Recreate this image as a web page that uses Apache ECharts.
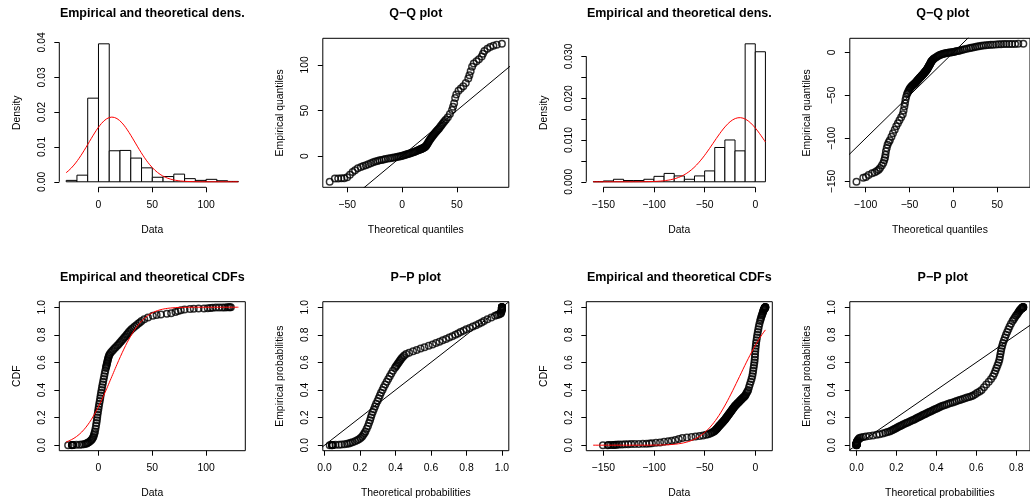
<!DOCTYPE html>
<html>
<head>
<meta charset="utf-8">
<script src="https://cdn.jsdelivr.net/npm/echarts@6/dist/echarts.min.js"></script>
<style>
html, body { margin: 0; padding: 0; background: #fff; }
#chart { width: 1030px; height: 504px; }
</style>
</head>
<body>
<div id="chart"></div>
<script>
// ---- Sample 1: plotting probabilities and sample quantiles ----
const probs1 = [0.00013,0.0003,0.0005,0.0008,0.0012,0.0018,0.0026,0.0037,0.005,0.007,
  0.01,0.013,0.017,0.022,0.028,0.035,0.043,0.052,0.062,0.074,
  0.087,0.1,
  0.12,0.14,0.16,0.18,0.2,0.22,0.24,0.26,0.28,0.3,
  0.32,0.34,0.36,0.38,0.4,0.42,0.44,0.46,0.48,0.5,
  0.52,0.54,0.56,0.57,0.58,0.59,0.6,0.61,0.62,0.63,0.64,0.65,
  0.66,0.67,0.68,0.69,0.7,0.71,0.72,0.73,0.74,0.75,
  0.76,0.77,0.78,0.79,0.8,0.81,0.82,0.83,0.84,0.85,
  0.86,0.87,0.88,0.89,
  0.9,0.913,0.926,0.938,0.943,0.948,0.9525,0.957,0.965,0.972,
  0.978,0.983,0.987,0.9885,0.99,0.9915,0.993,0.995,0.9963,0.9974,
  0.9978,0.9982,0.9988,0.9992,0.9995,0.9997,0.99987];
const values1 = [-28.2,-24.7,-24.5,-24.4,-24.2,-23.3,-20.5,-17.5,-15.5,-13.5,
  -12,-10.9,-10.0,-9.0,-7.8,-6.8,-6.0,-5.3,-4.7,-4.2,
  -3.7,-3.3,
  -2.8,-2.3,-1.9,-1.5,-1.2,-0.9,-0.5,-0.1,0.3,0.7,
  1.2,1.6,2.0,2.4,2.9,3.3,3.8,4.3,4.8,5.3,
  5.8,6.3,6.9,7.2,7.5,7.8,8.1,8.4,8.7,9.0,9.4,9.8,
  10.4,11.3,12.5,13.6,14.8,16.0,17.3,18.5,19.6,20.7,
  21.8,22.9,24,25.1,26.2,27.2,28.2,29.4,30.6,32.1,
  33.6,35.2,36.8,38.4,
  40,42.5,46,50.5,54,58,63.5,67.5,71.5,74,
  76.5,80,85,88.5,93,98,101.5,104,106,109,
  112,115,117.5,119.5,121,122,123];

// ---- Sample 2 ----
const probs2 = [0.00013,0.0004,0.0006,0.0009,0.0015,0.0022,0.0029,0.0037,0.0044,0.0055,
  0.0066,0.0074,0.0081,0.0086,0.0091,0.01,0.011,0.0125,0.0142,0.017,
  0.02,0.024,0.028,0.033,0.0384,0.045,0.052,0.056,0.06,0.063,
  0.066,0.07,0.075,0.08,0.085,0.09,0.095,
  0.1,0.105,0.11,0.115,0.12,0.125,0.13,0.135,0.14,0.145,
  0.15,0.155,0.16,0.165,0.17,0.175,0.18,0.185,0.19,0.195,
  0.2,0.205,0.21,0.215,0.22,0.225,0.23,0.235,0.24,0.245,
  0.25,0.255,0.26,0.265,0.27,0.275,0.28,0.285,0.29,0.295,
  0.3,0.305,0.31,0.315,0.32,0.325,0.33,0.335,0.34,0.345,
  0.35,0.355,0.36,0.37,0.38,0.39,0.4,
  0.42,0.44,0.46,0.48,0.5,0.52,0.54,0.56,0.58,0.6,
  0.62,0.64,0.66,0.68,0.7,0.72,0.74,0.76,0.78,0.8,
  0.82,0.84,0.86,0.88,0.9,
  0.913,0.926,0.938,0.948,0.957,0.965,0.972,0.978,0.983,0.987,
  0.99,0.993,0.995,0.9963,0.9974,0.9982,0.9988,0.9992,0.9995,0.9997,0.99987];
const values2 = [-150.4,-145.7,-144.9,-142.6,-140.5,-139.3,-138,-136.5,-134.5,-131.5,
  -128.5,-125.5,-122.5,-119,-115,-111,-107.5,-104.5,-102,-98,
  -94,-90,-86,-82.5,-79,-75.5,-72,-67.5,-63,-59,
  -55,-51.5,-48.5,-46.5,-44.5,-43,-41.8,
  -40.7,-39.9,-39.1,-38.5,-37.9,-37.3,-36.7,-36.1,-35.5,-34.9,
  -34.3,-33.6,-33.0,-32.4,-31.8,-31.2,-30.6,-30.0,-29.5,-29.0,
  -28.5,-28.0,-27.5,-27.0,-26.5,-26.0,-25.5,-25.0,-24.5,-24.0,
  -23.5,-23.0,-22.5,-22.0,-21.5,-21.0,-20.5,-19.9,-19.3,-18.6,
  -18,-17.3,-16.6,-15.9,-15.3,-14.6,-14,-13.3,-12.6,-11.9,
  -11.2,-10.5,-9.9,-9.2,-8.5,-7.7,-7,
  -6.2,-5.4,-4.5,-3.7,-3.0,-2.5,-2.1,-1.7,-1.3,-0.9,
  -0.6,-0.4,-0.2,0,0.2,0.5,0.8,1.2,1.6,2.0,
  2.5,3.0,3.5,4.1,4.8,
  5.3,5.8,6.3,6.8,7.2,7.6,7.9,8.2,8.5,8.8,
  9.0,9.2,9.4,9.5,9.6,9.7,9.75,9.8,9.85,9.9,9.95];

// ---- Fitted normal parameters ----
const fitMean1 = 12.55, fitSd1 = 21.49;
const fitMean2 = -15.4, fitSd2 = 26.0;

// ---- Histogram breaks and densities ----
const breaks1 = [-30,-20,-10,0,10,20,30,40,50,60,70,80,90,100,110,120,130];
const density1 = [0.0004,0.0019,0.0240,0.0396,0.0089,0.0090,0.0068,0.0040,0.0013,0.0015,0.0022,0.0009,0.0004,0.0007,0.0003,0.0001];
const breaks2 = [-160,-150,-140,-130,-120,-110,-100,-90,-80,-70,-60,-50,-40,-30,-20,-10,0,10];
const density2 = [0.00003,0.0002,0.0006,0.0003,0.0003,0.0006,0.0013,0.0020,0.0014,0.0006,0.0014,0.0026,0.0082,0.0100,0.0074,0.0330,0.0311];

// ---- Tick positions ----
const ticksData1 = [0, 50, 100];
const ticksData2 = [-150, -100, -50, 0];
const ticksDens1 = [0, 0.01, 0.02, 0.03, 0.04];
const ticksDens2 = [0, 0.005, 0.01, 0.015, 0.02, 0.025, 0.03];
const labelsDens2 = [0, 0.01, 0.02, 0.03];
const ticksQx1 = [-50, 0, 50];
const ticksQy1 = [0, 50, 100];
const ticksQx2 = [-100, -50, 0, 50];
const ticksQy2 = [-150, -100, -50, 0];
const ticksProb = [0, 0.2, 0.4, 0.6, 0.8, 1];

// ---- Normal distribution helpers ----
function erfc(x) {
  const z = Math.abs(x), t = 1 / (1 + 0.5 * z);
  const r = t * Math.exp(-z * z - 1.26551223 + t * (1.00002368 + t * (0.37409196 + t * (0.09678418 +
    t * (-0.18628806 + t * (0.27886807 + t * (-1.13520398 + t * (1.48851587 + t * (-0.82215223 + t * 0.17087277)))))))));
  return x >= 0 ? r : 2 - r;
}
function pnorm(x, m, s) { return 0.5 * erfc(-((x - m) / s) / Math.SQRT2); }
function dnorm(x, m, s) { const z = (x - m) / s; return Math.exp(-0.5 * z * z) / (s * Math.sqrt(2 * Math.PI)); }
function qnormStd(p) {
  const a = [-3.969683028665376e+01, 2.209460984245205e+02, -2.759285104469687e+02, 1.383577518672690e+02, -3.066479806614716e+01, 2.506628277459239e+00];
  const b = [-5.447609879822406e+01, 1.615858368580409e+02, -1.556989798598866e+02, 6.680131188771972e+01, -1.328068155288572e+01];
  const c = [-7.784894002430293e-03, -3.223964580411365e-01, -2.400758277161838e+00, -2.549732539343734e+00, 4.374664141464968e+00, 2.938163982698783e+00];
  const d = [7.784695709041462e-03, 3.224671290700398e-01, 2.445134137142996e+00, 3.754408661907416e+00];
  const pl = 0.02425;
  let q, r;
  if (p < pl) {
    q = Math.sqrt(-2 * Math.log(p));
    return (((((c[0]*q+c[1])*q+c[2])*q+c[3])*q+c[4])*q+c[5]) / ((((d[0]*q+d[1])*q+d[2])*q+d[3])*q+1);
  } else if (p <= 1 - pl) {
    q = p - 0.5; r = q * q;
    return (((((a[0]*r+a[1])*r+a[2])*r+a[3])*r+a[4])*r+a[5])*q / (((((b[0]*r+b[1])*r+b[2])*r+b[3])*r+b[4])*r+1);
  } else {
    q = Math.sqrt(-2 * Math.log(1 - p));
    return -(((((c[0]*q+c[1])*q+c[2])*q+c[3])*q+c[4])*q+c[5]) / ((((d[0]*q+d[1])*q+d[2])*q+d[3])*q+1);
  }
}
function qnorm(p, m, s) { return m + s * qnormStd(p); }

// R-style axis extent: data range widened by 4% on each side
function widen(lo, hi) { const e = 0.04 * (hi - lo); return [lo - e, hi + e]; }
function extent(arr) { return [Math.min.apply(null, arr), Math.max.apply(null, arr)]; }

function fmt(dec) {
  return v => (v < -1e-12 ? '\u2212' : '') + Math.abs(v).toFixed(dec);
}

const FONT = "'Liberation Sans', Arial, Helvetica, sans-serif";
const titles = [], grids = [], xAxes = [], yAxes = [], series = [];

const COL0 = 59.3, COLW = 263.5, ROW0 = 38.3, ROWH = 263.4, PW = 186, PH = 149;

function makeAxis(dim, gi, range, ticks, labels, formatter, name) {
  return {
    gridIndex: gi, type: 'value', min: range[0], max: range[1],
    axisLine: { show: false, onZero: false },
    axisTick: { show: true, inside: false, length: 5, customValues: ticks, lineStyle: { color: '#000', width: 1 } },
    axisLabel: {
      show: true, customValues: labels, formatter: formatter,
      fontSize: 10.4, fontFamily: FONT, color: '#000', margin: 12.5,
      rotate: dim === 'y' ? 90 : 0, align: 'center', verticalAlign: dim === 'y' ? 'bottom' : 'top'
    },
    splitLine: { show: false },
    name: name, nameLocation: 'middle', nameGap: 37.5,
    nameTextStyle: { fontSize: 10.4, fontFamily: FONT, color: '#000' }
  };
}

function addPanel(gi, col, row, o) {
  const left = COL0 + COLW * col, top = ROW0 + ROWH * row;
  grids.push({ left: left, top: top, width: PW, height: PH, show: o.box, borderColor: '#000', borderWidth: 1, backgroundColor: 'transparent' });
  titles.push({ text: o.title, left: left + PW / 2, top: top - 31, textAlign: 'center', padding: 0,
    textStyle: { fontSize: 12.5, fontWeight: 'bold', fontFamily: FONT, color: '#000' } });
  xAxes.push(makeAxis('x', gi, o.xr, o.xt, o.xl || o.xt, o.xf, o.xn));
  yAxes.push(makeAxis('y', gi, o.yr, o.yt, o.yl || o.yt, o.yf, o.yn));
}

const lineBase = { type: 'line', symbol: 'none', silent: true, animation: false };
const pointStyle = { type: 'scatter', symbol: 'circle', symbolSize: 6.5, silent: true, animation: false,
  itemStyle: { color: 'rgba(0,0,0,0)', borderColor: '#000', borderWidth: 1.5 } };

function curve(fn, lo, hi, n) {
  const out = [];
  for (let i = 0; i <= n; i++) { const x = lo + (hi - lo) * i / n; out.push([x, fn(x)]); }
  return out;
}

function buildSet(colOffset, probs, values, mean, sd, breaks, dens, ticksX, ticksDens, labelsDens, densDec, ticksQx, ticksQy) {
  const gD = grids.length, gQ = gD + 1, gC = gD + 2, gP = gD + 3;
  const xlim = [breaks[0], breaks[breaks.length - 1]];
  const xr = widen(xlim[0], xlim[1]);
  const fitted = curve(x => dnorm(x, mean, sd), xlim[0], xlim[1], 200);
  const dMax = Math.max(Math.max.apply(null, dens), Math.max.apply(null, fitted.map(p => p[1])));
  const dr = widen(0, dMax);

  // Histogram with fitted density
  addPanel(gD, colOffset, 0, { box: false, title: 'Empirical and theoretical dens.',
    xr: xr, xt: ticksX, xf: fmt(0), xn: 'Data',
    yr: dr, yt: ticksDens, yl: labelsDens, yf: fmt(densDec), yn: 'Density' });
  const bins = dens.map((d, i) => [breaks[i], breaks[i + 1], d]);
  series.push({ type: 'custom', xAxisIndex: gD, yAxisIndex: gD, silent: true, animation: false, clip: false,
    data: bins,
    renderItem: function (params, api) {
      const a = api.coord([api.value(0), 0]);
      const b = api.coord([api.value(1), api.value(2)]);
      return { type: 'rect', shape: { x: a[0], y: b[1], width: b[0] - a[0], height: a[1] - b[1] },
        style: { fill: '#fff', stroke: '#000', lineWidth: 1 } };
    } });
  series.push(Object.assign({}, lineBase, { xAxisIndex: gD, yAxisIndex: gD, data: fitted,
    lineStyle: { color: '#ff0000', width: 1 } }));
  // open axes drawn from first to last tick, as on a histogram
  series.push(Object.assign({}, lineBase, { xAxisIndex: gD, yAxisIndex: gD, clip: false,
    data: [[ticksX[0], dr[0]], [ticksX[ticksX.length - 1], dr[0]]], lineStyle: { color: '#000', width: 1 } }));
  series.push(Object.assign({}, lineBase, { xAxisIndex: gD, yAxisIndex: gD, clip: false,
    data: [[xr[0], ticksDens[0]], [xr[0], ticksDens[ticksDens.length - 1]]], lineStyle: { color: '#000', width: 1 } }));

  // Q-Q plot
  const theo = probs.map(p => qnorm(p, mean, sd));
  const qxr = widen.apply(null, extent(theo));
  const qyr = widen.apply(null, extent(values));
  addPanel(gQ, colOffset + 1, 0, { box: true, title: 'Q\u2212Q plot',
    xr: qxr, xt: ticksQx, xf: fmt(0), xn: 'Theoretical quantiles',
    yr: qyr, yt: ticksQy, yf: fmt(0), yn: 'Empirical quantiles' });
  series.push(Object.assign({}, pointStyle, { xAxisIndex: gQ, yAxisIndex: gQ, data: theo.map((t, i) => [t, values[i]]) }));
  const qlo = Math.min(qxr[0], qyr[0]), qhi = Math.max(qxr[1], qyr[1]);
  series.push(Object.assign({}, lineBase, { xAxisIndex: gQ, yAxisIndex: gQ, data: [[qlo, qlo], [qhi, qhi]],
    lineStyle: { color: '#000', width: 1 } }));

  // Empirical and theoretical CDFs
  addPanel(gC, colOffset, 1, { box: true, title: 'Empirical and theoretical CDFs',
    xr: xr, xt: ticksX, xf: fmt(0), xn: 'Data',
    yr: widen(0, 1), yt: ticksProb, yf: fmt(1), yn: 'CDF' });
  series.push(Object.assign({}, pointStyle, { xAxisIndex: gC, yAxisIndex: gC, data: values.map((v, i) => [v, probs[i]]) }));
  series.push(Object.assign({}, lineBase, { xAxisIndex: gC, yAxisIndex: gC,
    data: curve(x => pnorm(x, mean, sd), xlim[0], xlim[1], 200), lineStyle: { color: '#ff0000', width: 1 } }));

  // P-P plot
  const tp = values.map(v => pnorm(v, mean, sd));
  const pxr = widen.apply(null, extent(tp));
  const pyr = widen.apply(null, extent(probs));
  addPanel(gP, colOffset + 1, 1, { box: true, title: 'P\u2212P plot',
    xr: pxr, xt: ticksProb, xf: fmt(1), xn: 'Theoretical probabilities',
    yr: pyr, yt: ticksProb, yf: fmt(1), yn: 'Empirical probabilities' });
  series.push(Object.assign({}, pointStyle, { xAxisIndex: gP, yAxisIndex: gP, data: tp.map((t, i) => [t, probs[i]]) }));
  const plo = Math.min(pxr[0], pyr[0]), phi = Math.max(pxr[1], pyr[1]);
  series.push(Object.assign({}, lineBase, { xAxisIndex: gP, yAxisIndex: gP, data: [[plo, plo], [phi, phi]],
    lineStyle: { color: '#000', width: 1 } }));
}

// grid indices run: density, Q-Q, CDF, P-P for each sample
buildSet(0, probs1, values1, fitMean1, fitSd1, breaks1, density1, ticksData1, ticksDens1, ticksDens1, 2, ticksQx1, ticksQy1);
buildSet(2, probs2, values2, fitMean2, fitSd2, breaks2, density2, ticksData2, ticksDens2, labelsDens2, 3, ticksQx2, ticksQy2);

const chart = echarts.init(document.getElementById('chart'), null, { renderer: 'canvas' });
chart.setOption({
  backgroundColor: '#fff',
  animation: false,
  title: titles,
  grid: grids,
  xAxis: xAxes,
  yAxis: yAxes,
  series: series
});
</script>
</body>
</html>
